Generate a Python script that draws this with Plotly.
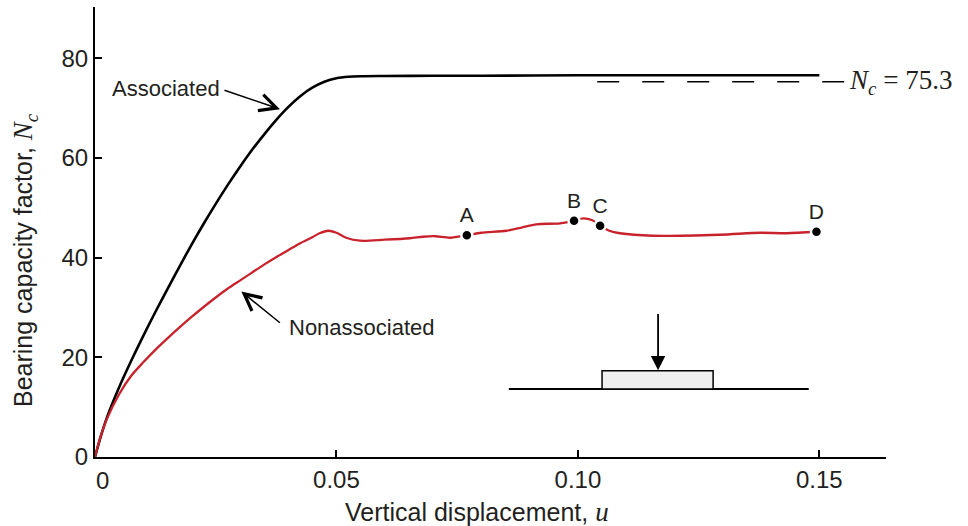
import plotly.graph_objects as go

# ---- data ----
assoc_u = [0, 0.001, 0.0025, 0.005, 0.0075, 0.01, 0.0125, 0.015, 0.0175, 0.02, 0.0225, 0.025,
           0.0275, 0.03, 0.0325, 0.035, 0.0375, 0.04, 0.0425, 0.045, 0.0475, 0.05, 0.0525,
           0.055, 0.06, 0.07, 0.08, 0.10, 0.12, 0.15]
assoc_N = [0, 3.5, 8.0, 14.0, 19.3, 24.3, 29.1, 33.7, 38.2, 42.6, 46.8, 50.8,
           54.6, 58.2, 61.6, 64.7, 67.6, 70.2, 72.4, 74.1, 75.3, 76.0, 76.3,
           76.4, 76.45, 76.5, 76.5, 76.6, 76.6, 76.6]

nonassoc_u = [0, 0.001, 0.0025, 0.005, 0.0075, 0.010, 0.0125, 0.015, 0.0175, 0.020, 0.0225,
              0.025, 0.0275, 0.030, 0.0325, 0.035, 0.0375, 0.040, 0.0425, 0.045, 0.0465,
              0.0483, 0.0500, 0.0520, 0.0549, 0.0600, 0.0652, 0.0679, 0.0705, 0.0735,
              0.0770, 0.0800, 0.0852, 0.0885, 0.0914, 0.0963, 0.0992, 0.1011, 0.1030,
              0.1046, 0.1065, 0.1087, 0.1155, 0.1294, 0.1377, 0.1432, 0.1494]
nonassoc_N = [0, 3.6, 7.7, 12.6, 16.3, 19.0, 21.5, 23.8, 26.0, 28.1, 30.1,
              32.0, 33.8, 35.4, 37.0, 38.6, 40.1, 41.5, 42.9, 44.1, 44.9,
              45.4, 45.0, 44.0, 43.4, 43.6, 43.9, 44.2, 44.3, 44.0,
              44.5, 45.0, 45.4, 46.1, 46.7, 46.9, 47.4, 47.9, 47.5,
              46.4, 45.4, 44.9, 44.4, 44.6, 45.0, 44.9, 45.2]

point_labels = ["A", "B", "C", "D"]
point_u = [0.0770, 0.0992, 0.1046, 0.1494]
point_N = [44.5, 47.4, 46.4, 45.2]

nc_limit = 75.3
nc_u = [0.104, 0.1557]

x_ticks = [0, 0.05, 0.10, 0.15]
x_ticktext = ["", "0.05", "0.10", "0.15"]
y_ticks = [0, 20, 40, 60, 80]

RED = "#c8232c"
TXT = "#231f20"
FONT = "Liberation Sans, Arial, Helvetica, sans-serif"
SERIF = "Liberation Serif, DejaVu Serif, serif"

fig = go.Figure()

# dashed reference line
fig.add_trace(go.Scatter(x=nc_u, y=[nc_limit, nc_limit], mode="lines",
                         line=dict(color="black", width=1.6, dash="22px,23px"),
                         hoverinfo="skip", showlegend=False))

fig.add_trace(go.Scatter(x=assoc_u, y=assoc_N, mode="lines",
                         line=dict(color="black", width=2.6, shape="spline", smoothing=0.8),
                         showlegend=False))

fig.add_trace(go.Scatter(x=nonassoc_u, y=nonassoc_N, mode="lines",
                         line=dict(color=RED, width=2.3, shape="spline", smoothing=0.8),
                         showlegend=False))

fig.add_trace(go.Scatter(x=point_u, y=point_N, mode="markers+text",
                         marker=dict(color="black", size=11, line=dict(color="white", width=2.5)),
                         text=point_labels, textposition="top center",
                         textfont=dict(family=FONT, size=21, color=TXT),
                         showlegend=False))

# footing inset diagram (decoration)
fig.add_shape(type="line", x0=0.0857, x1=0.1478, y0=13.65, y1=13.65,
              line=dict(color="black", width=1.8))
fig.add_shape(type="rect", x0=0.1050, x1=0.1280, y0=13.65, y1=17.3,
              line=dict(color="black", width=1.5), fillcolor="#efefef")
fig.add_annotation(x=0.1166, y=17.4, ax=0.1166, ay=29.0, xref="x", yref="y",
                   axref="x", ayref="y", text="", showarrow=True,
                   arrowhead=2, arrowsize=1.6, arrowwidth=1.8, arrowcolor="black")

# labels with arrows
fig.add_annotation(x=0.0383, y=69.8, ax=0.0265, ay=73.7, axref="x", ayref="y",
                   text="", showarrow=True, arrowhead=5, arrowsize=2.2,
                   arrowwidth=1.5, arrowcolor="black")
fig.add_annotation(xref="paper", yref="paper", x=(110 - 95) / 791, y=(457 - 89) / 450,
                   xanchor="left", yanchor="middle", text="Associated",
                   font=dict(family=FONT, size=22, color=TXT), showarrow=False)

fig.add_annotation(x=0.0303, y=33.2, ax=0.0386, ay=26.7, axref="x", ayref="y",
                   text="", showarrow=True, arrowhead=5, arrowsize=2.2,
                   arrowwidth=1.5, arrowcolor="black")
fig.add_annotation(xref="paper", yref="paper", x=(287 - 95) / 791, y=(457 - 327) / 450,
                   xanchor="left", yanchor="middle", text="Nonassociated",
                   font=dict(family=FONT, size=22, color=TXT), showarrow=False)

fig.add_annotation(x=nc_u[1], y=nc_limit, xanchor="left", yanchor="middle", xshift=0,
                   text="<i>N<sub>c</sub></i>&nbsp;=&nbsp;75.3",
                   font=dict(family=SERIF, size=27, color=TXT), showarrow=False)

# "0" tick label on x axis (slightly offset to the right as in the original)
fig.add_annotation(x=0, xref="x", y=0, yref="paper", xshift=7, yshift=-23,
                   xanchor="center", yanchor="middle", text="0",
                   font=dict(family=FONT, size=24, color=TXT), showarrow=False)

# axis titles
fig.add_annotation(xref="paper", yref="paper", x=(477 - 95) / 791, y=0,
                   yshift=-55, xanchor="center", yanchor="middle",
                   text="Vertical displacement, <span style='font-family:Liberation Serif;font-style:italic;font-size:27px'>u</span>",
                   font=dict(family=FONT, size=25, color=TXT), showarrow=False)
fig.add_annotation(xref="paper", yref="paper", x=0, xshift=-70, y=(457 - 260) / 450,
                   xanchor="center", yanchor="middle", textangle=-90,
                   text="Bearing capacity factor, <span style='font-family:Liberation Serif;font-style:italic;font-size:27px'>N<sub>c</sub></span>",
                   font=dict(family=FONT, size=25, color=TXT), showarrow=False)

fig.update_xaxes(range=[0, 0.1638], tickvals=x_ticks, ticktext=x_ticktext,
                 showgrid=False, zeroline=False, showline=True, linecolor="black",
                 linewidth=2, ticks="inside", ticklen=7, tickwidth=1.5, tickcolor="black",
                 tickfont=dict(family=FONT, size=24, color=TXT))
fig.update_yaxes(range=[0, 90.3], tickvals=y_ticks,
                 showgrid=False, zeroline=False, showline=True, linecolor="black",
                 linewidth=2, ticks="inside", ticklen=7, tickwidth=1.5, tickcolor="black",
                 tickfont=dict(family=FONT, size=24, color=TXT))

fig.update_layout(width=968, height=526, margin=dict(l=95, r=82, t=7, b=69),
                  paper_bgcolor="white", plot_bgcolor="white",
                  font=dict(family=FONT, color=TXT))

fig.write_html("out.html")
